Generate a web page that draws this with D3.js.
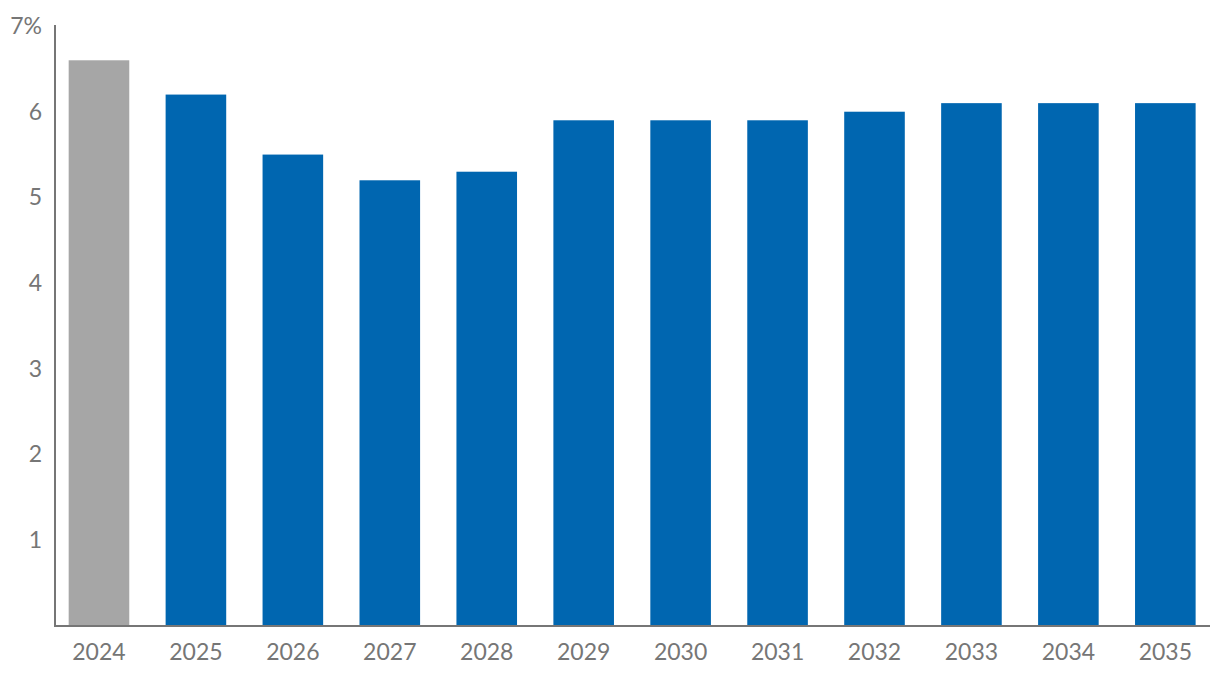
<!DOCTYPE html>
<html><head><meta charset="utf-8">
<script src="https://cdn.jsdelivr.net/npm/d3@7"></script>
<style>body{margin:0;background:#fff}svg{display:block}</style>
</head><body>
<svg id="c" width="1220" height="684"></svg>
<script>
const years = ["2024","2025","2026","2027","2028","2029","2030","2031","2032","2033","2034","2035"];
const values = [6.6,6.2,5.5,5.2,5.3,5.9,5.9,5.9,6.0,6.1,6.1,6.1];
const yTicks = [1,2,3,4,5,6,7];
const highlight = ["2024"];

const svg = d3.select("#c");
const y = d3.scaleLinear().domain([0,7]).range([626,26]);
const x = d3.scaleBand().domain(years).range([50.5,1213.8]).paddingInner(0.375).paddingOuter(0.1875);

svg.selectAll("rect.bar").data(years).join("rect")
  .attr("class","bar")
  .attr("x",d=>x(d)).attr("width",x.bandwidth())
  .attr("y",(d,i)=>y(values[i])).attr("height",(d,i)=>y(0)-y(values[i]))
  .attr("fill",d=>highlight.includes(d)?"#a6a6a6":"#0066b0");

const font = "Lato, 'Open Sans', sans-serif";
// y axis
const ya = svg.append("g").attr("transform","translate(55,0)")
  .call(d3.axisLeft(y).tickValues(yTicks).tickSize(0).tickPadding(13).tickFormat(d=>d===7?"7%":d));
ya.select(".domain").remove();
ya.selectAll("text").attr("fill","#767676").style("font-family",font).style("font-size","23px");
svg.append("line").attr("x1",55).attr("x2",55).attr("y1",25).attr("y2",627).attr("stroke","#767676").attr("stroke-width",2);
// x axis
const xa = svg.append("g").attr("transform","translate(0,626)")
  .call(d3.axisBottom(x).tickSize(0).tickPadding(18));
xa.select(".domain").remove();
xa.selectAll("text").attr("fill","#767676").style("font-family",font).style("font-size","23px");
svg.append("line").attr("x1",54).attr("x2",1210).attr("y1",626).attr("y2",626).attr("stroke","#767676").attr("stroke-width",2);
</script>
</body></html>
